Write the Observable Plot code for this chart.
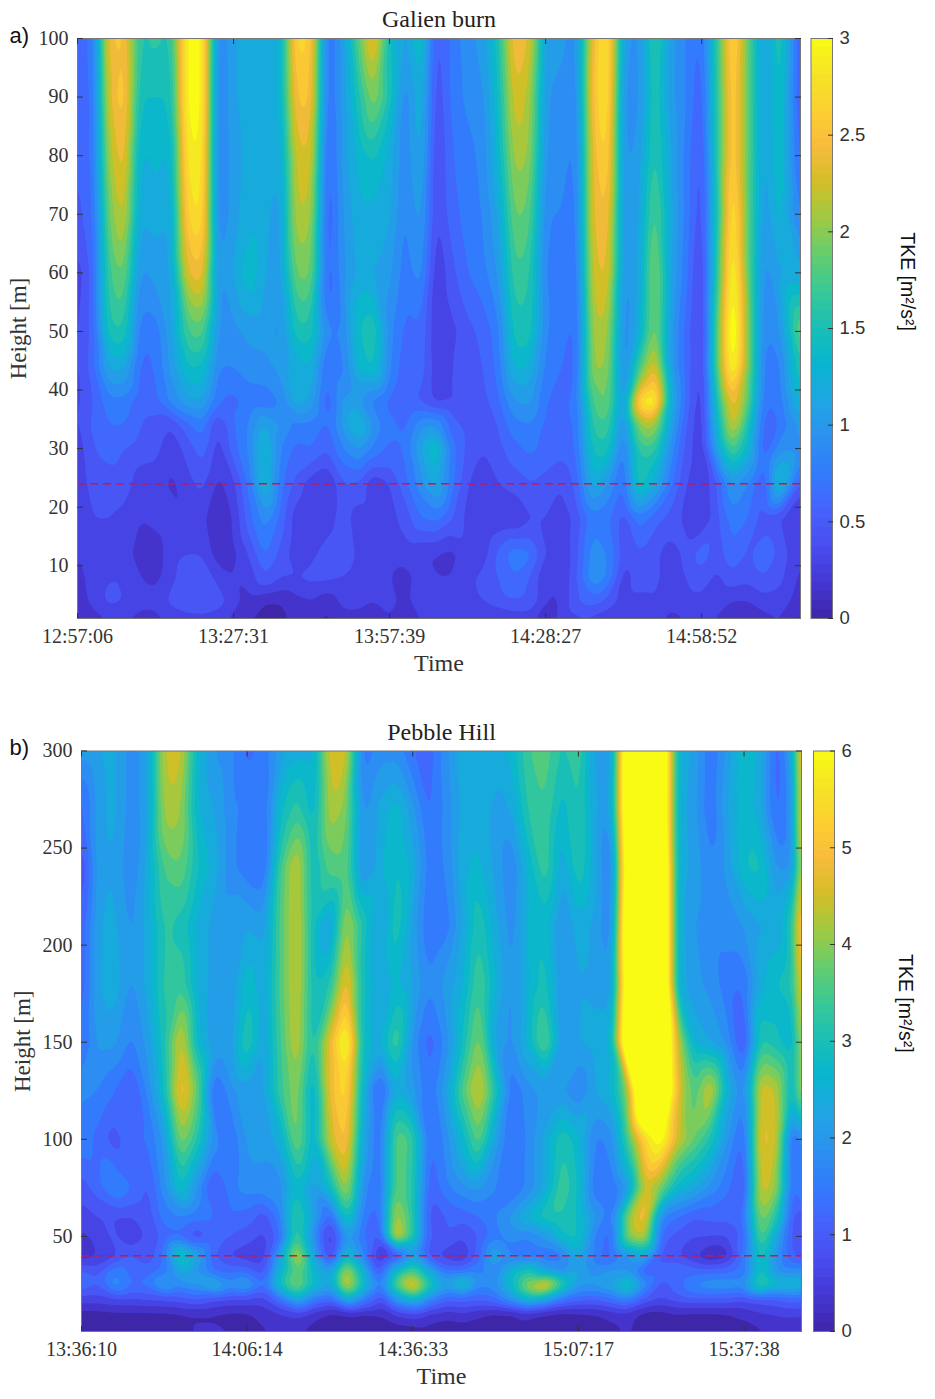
<!DOCTYPE html>
<html><head><meta charset="utf-8">
<script src="https://cdn.jsdelivr.net/npm/d3@7"></script>
<script src="https://cdn.jsdelivr.net/npm/@observablehq/plot@0.6"></script>
<style>
html,body{margin:0;padding:0;background:#fff}
#page{position:relative;width:935px;height:1399px;overflow:hidden}
#page svg{position:absolute;background:transparent}
</style></head><body><div id="page"></div>
<script>
const parula = ["#3e26a8","#4537d5","#484df0","#4563fd","#327bfc","#2b91ef","#20a5e3","#08b5d0","#19bfb6","#37c897","#64cd6f","#9dc943","#d1bf27","#f8ba3d","#fccf30","#f5e326","#f9fb14"];

// Panel a: Galien burn
const scanA = [0,3,6,9,12,15,18,21,24,27,30,33,36,39,42,45,48,51,54,57,60,63,66,69,72,75,78,81,84,87,90,93,96,99,102,105,108,111,114,117,120,123,126,129,132,135,139];
const heightA = [100,90,80,70,60,50,44,38,34,30,24,18,12,8,4,1];
const timeLabelsA = ["12:57:06","13:27:31","13:57:39","14:28:27","14:58:52"];
const a100=[.7,.75,2.55,2.6,1.6,1.7,1.6,3.1,3.1,.85,1.2,1.25,1.25,1.3,2.8,2.7,.7,1.1,1.9,2.6,1.5,1.1,1.6,.5,.8,1.0,1.1,1.6,2.6,2.4,1.1,1.1,.95,2.5,3.0,1.1,1.0,1.8,1.1,.9,.7,1.7,2.9,1.9,1.1,1.7,.5];
const a90=[.6,.75,2.4,2.7,1.5,1.5,1.5,3.1,3.1,.8,1.2,1.25,1.25,1.3,2.6,2.6,.7,1.1,1.6,2.1,1.6,.9,1.4,.45,.8,.95,1.0,1.5,2.4,2.2,1.05,1.0,.9,2.6,2.95,1.0,1.0,1.7,1.1,.9,.6,1.7,2.8,1.9,1.1,1.6,.5];
const a80=[.6,.75,2.2,2.55,1.3,1.4,1.3,2.95,3.0,.8,1.15,1.25,1.25,1.2,2.35,2.4,.6,1.1,1.4,1.55,1.3,.9,1.3,.4,.75,.85,.95,1.4,2.2,2.1,1.0,.95,.85,2.5,2.8,1.0,1.1,1.75,1.2,.85,.5,1.7,2.8,1.9,1.1,1.55,.6];
const a70=[.55,.7,2.0,2.35,1.2,1.3,1.2,2.75,2.9,.85,1.15,1.3,1.25,1.1,2.25,2.2,.55,1.05,1.3,1.3,1.25,.85,1.15,.4,.7,.8,.9,1.2,2.0,1.9,.9,.9,.8,2.45,2.6,1.0,1.15,1.95,1.25,.85,.45,1.6,3.0,1.9,1.05,1.45,.8];
const a60=[.35,.65,1.8,2.0,1.0,1.1,1.15,2.4,2.55,1.0,1.2,1.5,1.2,1.1,2.0,2.0,.6,1.0,1.25,1.2,1.1,.8,1.0,.3,.55,.75,.85,1.05,1.8,1.7,.85,.85,.75,2.35,2.45,1.0,1.2,2.15,1.2,.8,.35,1.7,3.2,1.9,.95,1.2,1.2];
const a50=[.4,.65,1.6,1.65,.8,.8,1.15,1.8,1.9,1.0,1.0,1.1,1.1,1.0,1.6,1.6,.9,.9,1.5,1.65,.95,.7,.75,.3,.4,.55,.65,.85,1.6,1.6,.9,.8,.7,2.2,2.2,.9,1.3,2.15,1.1,.7,.3,1.9,3.4,2.0,.9,1.0,2.0];
const a44=[.4,.7,1.25,1.25,.7,.75,1.1,1.5,1.5,.9,.9,1.0,1.0,1.1,1.3,1.35,.7,.85,1.4,1.55,.9,.65,.7,.35,.45,.5,.6,.8,1.4,1.35,.85,.75,.7,2.15,2.1,.9,1.8,2.5,1.1,.7,.35,1.9,3.2,2.0,.8,.85,1.7];
const a38=[.4,.6,.85,.85,.65,.7,.95,1.15,1.2,.75,.7,.8,.8,.9,1.3,1.15,.6,1.1,1.1,.85,.7,.6,.6,.4,.45,.45,.55,.7,1.05,1.1,.75,.7,.8,1.85,2.0,1.0,2.9,3.1,1.3,.7,.3,1.6,2.6,1.9,.75,.8,1.4];
const a34=[.4,.65,.75,.75,.6,.55,.45,.7,.85,.4,.75,.9,1.25,1.05,.85,.85,.7,1.1,1.45,1.0,.8,.7,1.0,1.05,.65,.55,.5,.6,.85,.9,.7,.7,.75,1.7,1.8,.9,2.1,2.2,1.2,.6,.3,1.4,2.4,1.6,.65,.75,1.1];
const a30=[.35,.6,.65,.6,.55,.5,.35,.5,.7,.35,.7,.9,1.5,.9,.7,.75,.6,.9,1.1,.85,.7,.75,1.2,1.55,.8,.55,.45,.55,.7,.8,.7,.65,.75,1.55,1.6,.8,1.75,1.75,1.0,.55,.3,1.2,1.9,1.4,.6,1.0,1.0];
const a24=[.3,.55,.55,.55,.35,.4,.25,.4,.5,.25,.4,.8,1.45,.8,.55,.35,.25,.6,.6,.3,.45,.7,1.0,1.3,.8,.45,.35,.45,.5,.6,.55,.45,.65,1.3,1.05,.7,1.65,1.3,.8,.45,.3,.6,1.1,.9,.55,1.55,.5];
const a18=[.35,.45,.45,.4,.3,.35,.4,.3,.35,.15,.3,.7,1.0,.7,.35,.3,.35,.55,.35,.35,.4,.5,.75,.8,.6,.4,.3,.3,.3,.45,.45,.35,.5,.85,.8,.5,.85,.65,.55,.4,.3,.55,.85,.75,.5,.45,.3];
const a12=[.3,.3,.35,.35,.25,.2,.4,.45,.45,.2,.25,.45,.8,.55,.35,.4,.55,.6,.4,.4,.35,.35,.3,.3,.25,.4,.35,.65,.85,.8,.45,.3,.55,1.0,.9,.5,.6,.5,.35,.5,.7,.5,.75,.55,.75,.55,.3];
const a8=[.25,.35,.45,.45,.3,.25,.4,.55,.55,.4,.3,.35,.6,.45,.45,.5,.5,.45,.35,.45,.3,.25,.35,.3,.3,.4,.5,.6,.75,.6,.3,.3,.6,1.05,.9,.35,.55,.5,.35,.45,.55,.4,.55,.5,.6,.5,.25];
const a4=[.2,.35,.5,.45,.35,.35,.5,.55,.6,.55,.35,.25,.15,.15,.25,.3,.2,.35,.35,.3,.35,.25,.4,.45,.4,.4,.45,.55,.6,.6,.3,.3,.6,.7,.55,.4,.4,.45,.35,.4,.4,.35,.3,.3,.4,.4,.2];
const a1=[.1,.25,.3,.3,.25,.25,.35,.4,.4,.35,.25,.15,.1,.1,.2,.2,.1,.25,.25,.2,.3,.2,.3,.35,.3,.3,.25,.3,.35,.35,.2,.35,.4,.4,.35,.3,.3,.35,.25,.3,.3,.3,.15,.15,.25,.3,.1];
const seriesA=[a100,a90,a80,a70,a60,a50,a44,a38,a34,a30,a24,a18,a12,a8,a4,a1];

// Panel b: Pebble Hill
const scanB = [0,3,6,9,12,15,18,21,24,27,30,33,36,39,42,45,48,51,54,57,60,63,66,69,72,75,78,81,84,87,90,93,96,99,102,105,108,111,114,117,120,123,126,129,130.4];
const heightB = [300,270,240,210,180,150,125,100,75,60,50,40,32,25,18,10,1];
const timeLabelsB = ["13:36:10","14:06:14","14:36:33","15:07:17","15:37:38"];
const b300=[2.2,2.4,2.5,1.9,2.3,4.6,4.7,2.8,2.1,1.9,1.4,1.6,2.3,2.6,2.5,4.8,4.7,1.5,2.0,2.0,1.5,1.3,2.0,2.6,2.7,2.5,2.8,3.6,3.8,3.2,3.6,2.3,2.1,8,9,8,2.7,2.3,1.5,2.2,3.0,2.6,1.2,2.6,6];
const b270=[1.3,2.3,2.5,1.9,2.3,4.4,4.3,2.7,2.4,1.9,1.7,1.5,2.9,3.5,2.7,4.5,4.1,1.9,2.5,2.9,2.2,1.4,1.9,2.5,2.6,2.3,2.4,3.4,3.6,2.8,3.4,2.4,2.2,8,9,8,2.6,2.2,1.5,2.4,2.9,2.5,1.3,2.2,6];
const b240=[.8,2.3,2.4,1.8,2.5,3.7,3.9,3.0,2.6,1.9,1.6,1.4,3.6,4.7,2.9,3.8,3.9,1.9,2.6,3.1,2.6,1.6,1.8,2.6,2.8,2.3,1.8,2.8,3.6,2.4,3.3,2.5,1.5,7.5,9,8.5,2.6,2.3,1.8,2.2,3.0,3.1,2.0,2.1,5.4];
const b210=[1.2,2.4,2.5,2.0,2.5,3.4,3.2,2.6,2.3,2.3,2.4,2.2,3.7,4.7,3.0,2.2,4.5,3.2,2.2,3.3,2.3,1.5,1.6,2.4,3.3,2.5,1.9,2.8,2.9,2.0,2.6,2.3,1.7,8,9,8.5,2.6,2.1,1.9,2.0,2.1,2.4,2.4,3.4,6];
const b180=[1.2,2.4,2.6,2.0,2.5,3.4,3.6,2.6,2.3,2.1,3.0,2.4,3.7,4.7,3.0,3.2,5.2,3.0,2.4,2.8,2.4,1.8,2.2,2.6,3.7,2.7,2.0,2.7,3.2,2.1,2.4,2.3,2.0,7.5,9,8.5,2.6,2.2,2.0,1.6,1.5,2.6,3.0,3.3,5.5];
const b150=[1.4,2.2,2.2,1.7,2.2,3.2,4.8,2.8,2.2,2.2,3.4,2.3,3.6,4.6,3.0,4.9,6.5,2.9,2.5,3.7,2.0,1.3,1.9,3.0,4.2,2.3,2.0,2.8,3.9,2.1,2.4,2.5,2.6,8,9,8.5,4.5,2.6,2.4,2.0,1.0,3.4,3.1,2.6,5];
const b125=[1.9,1.8,1.5,1.1,1.9,3.0,5.2,3.9,1.3,2.0,2.3,2.3,3.5,4.2,2.5,5.0,5.7,2.7,1.1,2.7,2.2,1.5,2.3,3.7,4.8,3.2,1.5,2.0,2.2,2.2,1.7,2.4,2.7,4.2,9,8.5,4.8,3.6,4.7,2.6,1.8,4.8,4.5,2.5,5];
const b100=[1.7,1.4,1.0,1.5,1.5,2.2,4.2,3.3,1.9,1.5,2.2,2.2,2.6,4.1,2.6,4.6,5.3,2.4,1.4,3.9,3.5,1.4,1.9,2.8,3.9,2.3,1.4,1.9,2.5,3.3,2.8,1.7,1.9,3.6,5.6,6.4,4.6,3.9,3.2,2.1,1.3,5.0,4.6,1.0,2.3];
const b75=[1.0,1.4,1.9,1.5,1.1,2.0,3.1,2.0,1.0,1.7,2.0,2.0,1.9,3.0,2.2,2.9,4.5,1.9,1.4,3.9,3.4,1.2,1.7,2.0,2.2,1.8,1.5,1.9,2.5,3.6,3.0,1.5,1.5,2.2,4.7,4.0,2.8,2.5,2.0,1.6,1.0,4.8,4.2,1.1,2.0];
const b60=[.8,.9,.9,.9,1.0,1.7,1.8,1.6,1.5,1.5,1.4,1.0,1.7,3.6,2.4,1.2,3.3,1.6,1.3,4.6,3.4,1.0,1.2,1.3,1.5,1.8,2.2,2.8,3.2,3.3,3.0,2.1,1.6,4.2,5.2,1.8,1.5,1.2,1.3,1.3,1.5,4.2,3.3,1.0,1.0];
const b50=[.5,.7,1.0,.5,1.0,1.3,1.4,.9,1.3,1.2,1.0,.8,1.4,3.7,2.0,.5,2.2,1.5,1.0,5.0,3.4,1.1,1.2,.9,1.2,1.7,1.9,1.8,2.2,3.0,3.1,1.7,1.3,4.2,4.6,1.3,1.1,.9,.9,.9,1.3,3.9,2.4,1.0,1.0];
const b40=[.4,.6,.8,1.2,1.0,1.6,3.5,2.4,1.2,.8,.7,.7,2.4,4.7,2.4,.6,3.0,1.8,.4,.9,2.4,1.0,.7,.5,1.3,2.6,1.7,1.5,1.5,1.6,2.6,1.6,1.3,2.0,2.5,1.0,.9,.6,.2,.4,1.6,3.3,2.0,1.2,1.0];
const b32=[1.3,1.1,1.8,1.4,1.3,1.6,2.6,2.0,1.4,1.4,1.4,1.0,2.8,3.9,2.8,2.2,4.6,2.8,.9,3.0,3.8,2.6,1.5,1.5,1.7,1.8,3.0,3.4,2.3,1.9,2.4,2.0,2.2,2.0,1.1,1.5,1.6,1.4,1.4,1.4,1.5,3.2,2.0,1.9,2.0];
const b25=[1.5,1.2,2.1,1.5,1.6,2.5,1.9,2.2,2.8,2.0,2.4,1.5,3.2,4.2,3.0,2.3,4.9,3.0,1.6,3.9,5.3,3.4,2.3,3.3,1.9,2.0,3.0,4.4,5.3,3.6,2.2,2.2,2.5,3.4,2.0,1.0,1.4,1.9,2.1,2.1,2.0,3.7,3.0,3.0,2.6];
const b18=[.8,.8,.9,.9,1.0,1.0,1.1,1.3,1.0,.9,.9,.8,1.6,2.7,1.7,1.4,2.8,1.8,.9,2.3,3.0,1.9,1.3,1.4,1.3,1.5,2.2,3.0,2.6,1.7,1.4,1.3,1.5,1.9,1.2,.9,1.1,1.2,1.2,1.2,1.0,1.1,1.2,1.4,1.3];
const b10=[.15,.15,.2,.2,.2,.2,.25,.25,.25,.2,.25,.45,.55,.7,.4,.2,.25,.2,.3,.65,.8,.5,.4,.55,.35,.15,.15,.35,.2,.15,.2,.25,.4,.45,.15,.15,.25,.2,.2,.25,.4,.55,.6,.65,.7];
const b1=[.1,.1,.1,.1,.1,.1,.15,.35,.35,.3,.1,.25,.4,.35,.15,.1,.1,.1,.1,.1,.1,.15,.1,.1,.15,.35,.3,.15,.1,.1,.1,.1,.2,.35,.1,.1,.1,.1,.1,.1,.1,.25,.4,.35,.2];
const seriesB=[b300,b270,b240,b210,b180,b150,b125,b100,b75,b60,b50,b40,b32,b25,b18,b10,b1];

const ticksX=[0,30,60,90,120];
const serif='"Liberation Serif",serif', sans='"Liberation Sans",Arial,sans-serif';
const page=document.getElementById("page");
const grid=(hs,xs,ser)=>hs.flatMap((h,i)=>xs.map((t,j)=>({t,h,v:ser[i][j]})));

function panel({top,svgH,mt,mb,ml,w,mr,scan,hs,series,xMax,yTicks,yMin,yMax,vMax,ref,title,tag,labels,tagDy}){
  const levels=[...d3.range(0,vMax,vMax/20),vMax];
  const p=Plot.plot({
    width:w,height:svgH,marginTop:mt,marginBottom:mb,marginLeft:ml,marginRight:mr,
    style:{fontFamily:serif,fontSize:"20px",background:"transparent",color:"#333"},
    x:{domain:[0,xMax],axis:null},y:{domain:[yMin,yMax],axis:null},
    color:{type:"linear",domain:[0,vMax],range:parula,clamp:true},
    marks:[
      Plot.contour(grid(hs,scan,series),{x:"t",y:"h",fill:"v",interpolate:"barycentric",thresholds:levels,pixelSize:2,blur:1.5}),
      Plot.ruleY([ref],{stroke:"#e01030",strokeWidth:1.6,strokeDasharray:"8,5"}),
      Plot.frame({stroke:"#777",strokeWidth:1}),
      Plot.axisX({anchor:"bottom",ticks:ticksX,tickSize:-5,tickPadding:15,stroke:"#333",fill:"#333",tickFormat:d=>labels[ticksX.indexOf(d)],label:null}),
      Plot.axisX({anchor:"top",ticks:ticksX,tickSize:-5,stroke:"#333",fill:"none",label:null}),
      Plot.axisY({anchor:"left",ticks:yTicks,tickSize:-6,tickPadding:15,stroke:"#333",fill:"#333",label:null}),
      Plot.axisY({anchor:"right",ticks:yTicks,tickSize:-6,stroke:"#333",fill:"none",label:null}),
      Plot.text([title],{frameAnchor:"top",dy:-19,lineAnchor:"middle",fontSize:24,fill:"#222"}),
      Plot.text(["Time"],{frameAnchor:"bottom",dy:45,lineAnchor:"middle",fontSize:24,fill:"#333"}),
      Plot.text(["Height [m]"],{frameAnchor:"left",dx:-59,rotate:-90,textAnchor:"middle",lineAnchor:"middle",fontSize:23,fill:"#333"}),
      Plot.text([tag],{frameAnchor:"top-left",dx:-(ml-9),dy:tagDy,lineAnchor:"middle",textAnchor:"start",fontFamily:sans,fontSize:22,fill:"#111"})
    ]
  });
  p.style.left="0px";p.style.top=top+"px";page.appendChild(p);
}

function colorbar({left,top,svgH,mt,mb,ml,w,mr,vMax,ticks,labelDx,labelDy}){
  const step=vMax/64;
  const bands=d3.range(0,vMax,step);
  const p=Plot.plot({
    width:w,height:svgH,marginTop:mt,marginBottom:mb,marginLeft:ml,marginRight:mr,
    style:{fontFamily:sans,fontSize:"18.5px",background:"transparent",color:"#333"},
    x:{domain:[0,1],axis:null},y:{domain:[0,vMax],axis:null},
    color:{type:"linear",domain:[0,vMax],range:parula},
    marks:[
      Plot.rect(bands,{x1:0,x2:1,y1:d=>d,y2:d=>d+step,fill:d=>d+step/2,shapeRendering:"crispEdges"}),
      Plot.frame({stroke:"#777",strokeWidth:1}),
      Plot.axisY({anchor:"right",ticks,tickSize:-5,tickPadding:12,stroke:"#333",fill:"#333",tickFormat:d=>String(d),label:null}),
      Plot.text(["TKE [m²/s²]"],{frameAnchor:"right",dx:labelDx,dy:labelDy,rotate:90,textAnchor:"middle",lineAnchor:"middle",fontFamily:sans,fontSize:19.5,fill:"#111"})
    ]
  });
  p.style.left=left+"px";p.style.top=top+"px";page.appendChild(p);
}

panel({top:0,svgH:700,mt:38,mb:82,ml:77,w:805,mr:5,scan:scanA,hs:heightA,series:seriesA,xMax:139,yTicks:d3.range(10,101,10),yMin:1,yMax:100,vMax:3,ref:24,title:"Galien burn",tag:"a)",labels:timeLabelsA,tagDy:-3});
colorbar({left:805,top:0,svgH:700,mt:38,mb:82,ml:5.5,w:130,mr:103,vMax:3,ticks:[0,.5,1,1.5,2,2.5,3],labelDx:75,labelDy:-47});
panel({top:700,svgH:699,mt:50.5,mb:68,ml:81,w:808,mr:7,scan:scanB,hs:heightB,series:seriesB,xMax:130.4,yTicks:d3.range(50,301,50),yMin:1,yMax:300,vMax:6,ref:40,title:"Pebble Hill",tag:"b)",labels:timeLabelsB,tagDy:-3});
colorbar({left:808,top:700,svgH:699,mt:50.5,mb:68,ml:5,w:127,mr:101,vMax:6,ticks:[0,1,2,3,4,5,6],labelDx:71,labelDy:-38});
</script></body></html>
